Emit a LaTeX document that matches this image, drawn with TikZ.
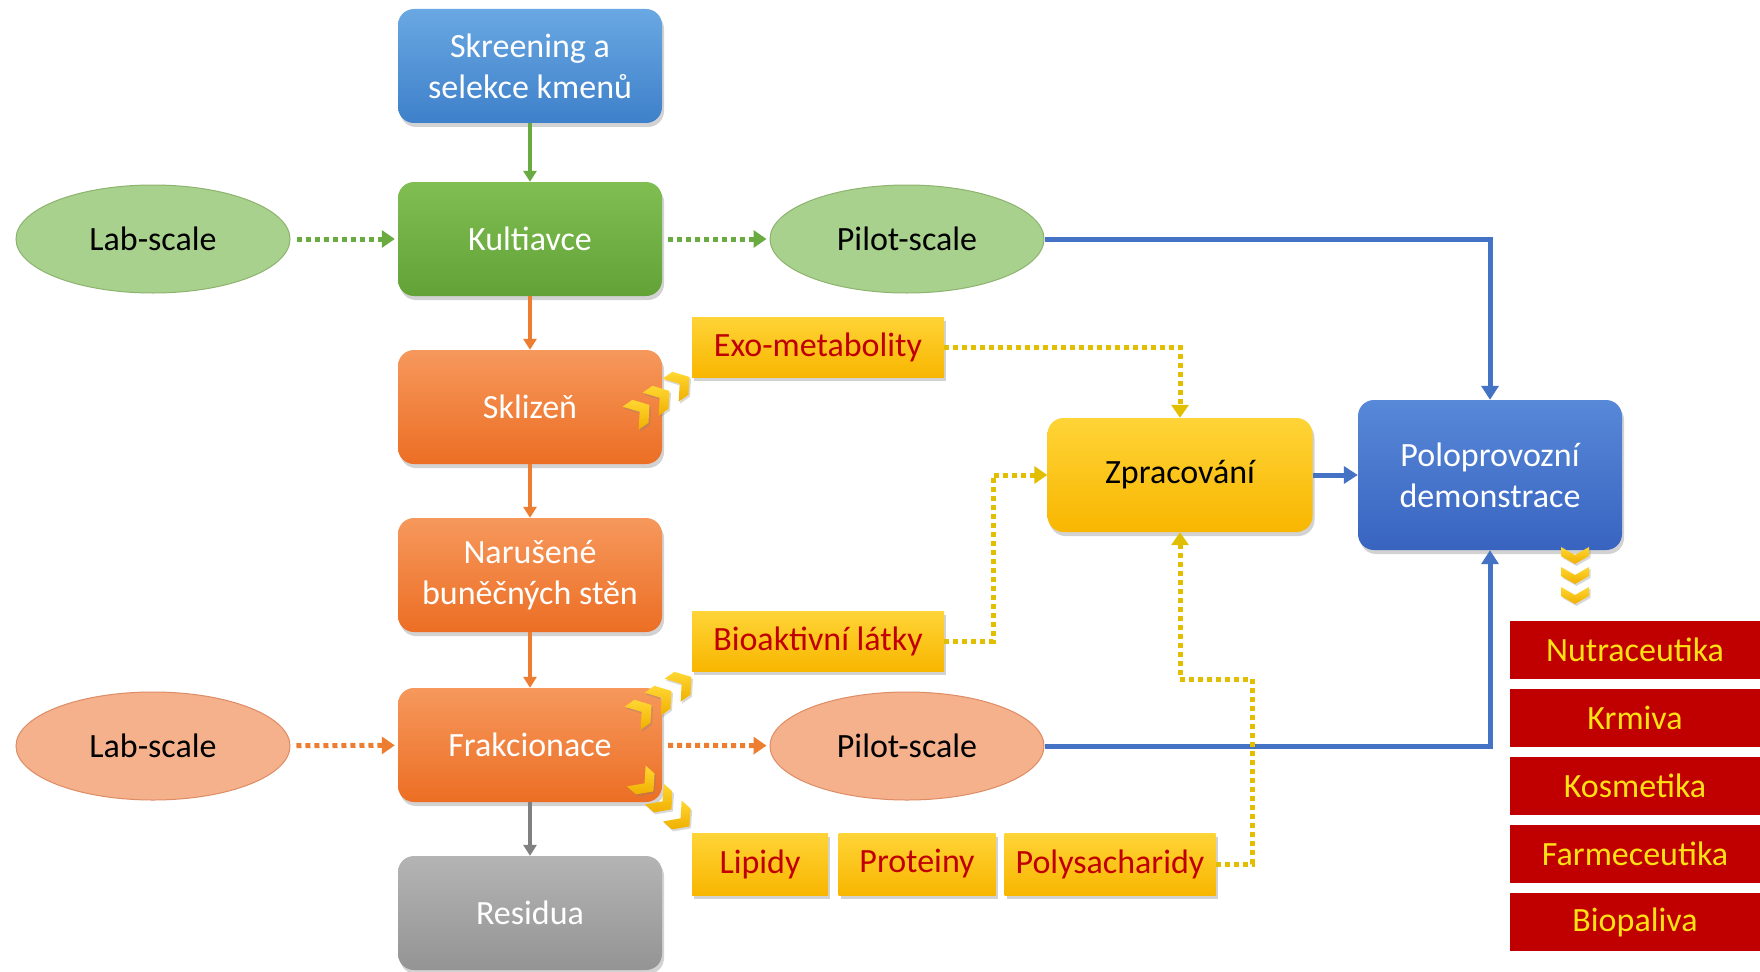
\documentclass[tikz,border=0pt]{standalone}
\usepackage{fontspec}
\setmainfont{Carlito}
\usetikzlibrary{arrows.meta,shapes.geometric,shadows,calc}
\definecolor{bluetop}{RGB}{105,168,226}
\definecolor{bluebot}{RGB}{62,128,202}
\definecolor{greentop}{RGB}{128,190,82}
\definecolor{greenbot}{RGB}{98,162,54}
\definecolor{orgtop}{RGB}{246,152,92}
\definecolor{orgbot}{RGB}{236,110,36}
\definecolor{graytop}{RGB}{180,180,180}
\definecolor{graybot}{RGB}{148,148,148}
\definecolor{yeltop}{RGB}{255,212,55}
\definecolor{yelbot}{RGB}{248,182,0}
\definecolor{potop}{RGB}{88,136,216}
\definecolor{pobot}{RGB}{56,100,192}
\definecolor{lgreen}{RGB}{169,209,142}
\definecolor{lgreenbd}{RGB}{140,180,110}
\definecolor{lorange}{RGB}{244,177,140}
\definecolor{lorangebd}{RGB}{222,140,100}
\definecolor{darkred}{RGB}{192,0,0}
\definecolor{redbox}{RGB}{192,0,0}
\definecolor{redtxt}{RGB}{255,225,20}
\definecolor{lnblue}{RGB}{68,114,196}
\definecolor{lngreen}{RGB}{105,170,65}
\definecolor{lnorange}{RGB}{237,125,49}
\definecolor{lngray}{RGB}{128,128,128}
\definecolor{lnyellow}{RGB}{225,190,0}
\definecolor{chevtop}{RGB}{255,215,50}
\definecolor{chevbot}{RGB}{240,175,0}
\newcommand\mychev[3]{\path[chevst, shift={(#1,#2)}, rotate=#3] (-9,-14) -- (3,-14) -- (14,0) -- (3,14) -- (-9,14) -- (2,0) -- cycle;}
\newcommand\mychevd[2]{\path[chevst, shift={(#1,#2)}, rotate=-90] (-6,-14) -- (3,-14) -- (11,0) -- (3,14) -- (-6,14) -- (2,0) -- cycle;}
\begin{document}
\begin{tikzpicture}[x=1pt,y=-1pt,
  txt/.style={font=\fontsize{34}{41}\selectfont, align=center},
  shad/.style={drop shadow={opacity=0.35,shadow xshift=2pt,shadow yshift=-4pt}},
  box/.style={txt, shad, rounded corners=16pt, minimum width=264pt, minimum height=114pt, text=white},
  bluebox/.style={box, top color=bluetop, bottom color=bluebot},
  greenbox/.style={box, top color=greentop, bottom color=greenbot},
  orgbox/.style={box, top color=orgtop, bottom color=orgbot},
  graybox/.style={box, top color=graytop, bottom color=graybot},
  ell/.style={txt, ellipse, minimum width=274pt, minimum height=108pt, text=black, line width=1pt},
  gell/.style={ell, fill=lgreen, draw=lgreenbd},
  oell/.style={ell, fill=lorange, draw=lorangebd},
  ybox/.style={txt, shad, top color=yeltop, bottom color=yelbot, text=darkred, minimum height=60pt, inner sep=0pt},
  rbox/.style={txt, fill=redbox, text=redtxt, minimum width=250pt, minimum height=58pt, inner sep=0pt},
  solidarr/.style={line width=3.5pt, -{Triangle[width=13pt,length=11pt]}},
  dotarr/.style={line width=5pt, dash pattern=on 5pt off 4pt, -{Triangle[width=17pt,length=13pt]}},
  blueln/.style={line width=5pt, lnblue, -{Triangle[width=17pt,length=14pt]}},
  chevst/.style={top color=chevtop, bottom color=chevbot, drop shadow={opacity=0.3,shadow xshift=1.5pt,shadow yshift=-2pt}}
]
\fill[white] (0,0) rectangle (1760,971);
\useasboundingbox (0,0) rectangle (1760,971);

% main column
\node[bluebox] (skr) at (530,66) {Skreening a\\selekce kmenů};
\node[greenbox] (kult) at (530,239) {Kultiavce};
\node[orgbox] (skl) at (530,407) {Sklizeň};
\node[orgbox] (nar) at (530,575) {Narušené\\buněčných stěn};
\node[orgbox] (frak) at (530,745) {Frakcionace};
\node[graybox] (res) at (530,913) {Residua};

% ellipses
\node[gell] (lab1) at (153,239) {Lab-scale};
\node[gell] (pil1) at (907,239) {Pilot-scale};
\node[oell] (lab2) at (153,746) {Lab-scale};
\node[oell] (pil2) at (907,746) {Pilot-scale};

% yellow product boxes
\node[ybox, minimum width=252pt] (exo) at (818,347) {Exo-metabolity};
\node[ybox, minimum width=252pt] (bio) at (818,641) {Bioaktivní látky};
\node[ybox, minimum width=136pt, minimum height=62pt] (lip) at (760,864) {Lipidy};
\node[ybox, minimum width=157pt, minimum height=62pt] (prot) at (917,864) {Proteiny};
\node[ybox, minimum width=211pt, minimum height=62pt] (poly) at (1110,864) {Polysacharidy};

% processing and demonstration
\node[box, top color=yeltop, bottom color=yelbot, text=black, minimum width=265pt] (zpr) at (1180,475) {Zpracování};
\node[box, top color=potop, bottom color=pobot, minimum width=264pt, minimum height=150pt] (polo) at (1490,475) {Poloprovozní\\demonstrace};

% red output boxes
\node[rbox] (nut) at (1635,650) {Nutraceutika};
\node[rbox] (krm) at (1635,718) {Krmiva};
\node[rbox] (kos) at (1635,786) {Kosmetika};
\node[rbox] (far) at (1635,854) {Farmeceutika};
\node[rbox] (biop) at (1635,922) {Biopaliva};

% main column arrows
\draw[solidarr, lngreen] (skr) -- (kult);
\draw[solidarr, lnorange] (kult) -- (skl);
\draw[solidarr, lnorange] (skl) -- (nar);
\draw[solidarr, lnorange] (nar) -- (frak);
\draw[solidarr, lngray] (frak) -- (res);

% dotted scale arrows
\draw[dotarr, lngreen, shorten <=6pt, shorten >=3pt] (lab1) -- (kult);
\draw[dotarr, lngreen, shorten <=6pt, shorten >=3pt] (kult) -- (pil1);
\draw[dotarr, lnorange, shorten <=6pt, shorten >=3pt] (lab2) -- (frak);
\draw[dotarr, lnorange, shorten <=6pt, shorten >=3pt] (frak) -- (pil2);

% blue connectors
\draw[blueln] (pil1.east) -| (polo.north);
\draw[blueln] (pil2.east) -| (polo.south);
\draw[blueln] (zpr) -- (polo);

% yellow dotted connectors
\coordinate (b1) at (993,641);
\coordinate (p1) at (1252,864);
\coordinate (p2) at (1252,679);
\draw[dotarr, lnyellow] (exo.east) -| (zpr.north);
\draw[dotarr, lnyellow] (bio.east) -- (b1) |- (zpr.west);
\draw[dotarr, lnyellow] (poly.east) -- (p1) -- (p2) -| (zpr.south);

% chevrons
\mychev{638}{413}{35}
\mychev{658}{399}{35}
\mychev{678}{385}{35}
\mychev{640}{713}{35}
\mychev{660}{699}{35}
\mychev{680}{685}{35}
\mychev{643}{782}{-42}
\mychev{661}{800}{-42}
\mychev{679}{817}{-42}
\mychevd{1575}{553}
\mychevd{1575}{573}
\mychevd{1575}{593}
\end{tikzpicture}
\end{document}
